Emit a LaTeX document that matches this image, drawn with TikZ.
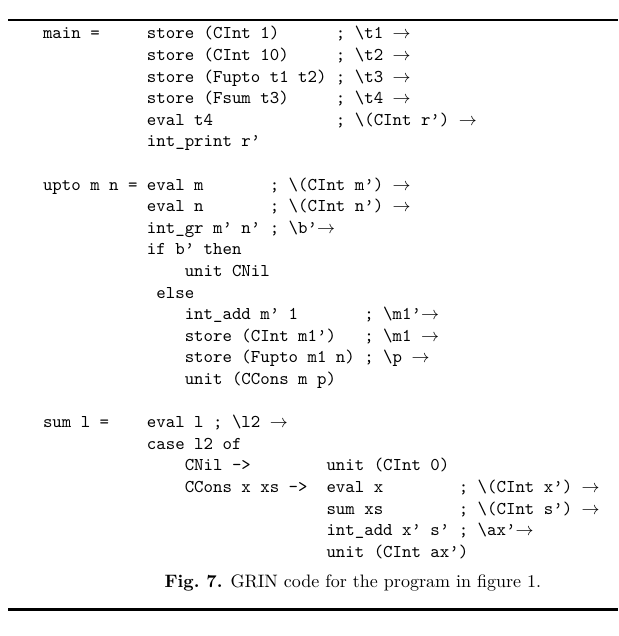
\documentclass[tikz,border=0pt]{standalone}
\usepackage{fontspec}
\setmonofont{Latin Modern Mono}
\newcommand\colx[1]{23.9+5.25*#1}
\newcommand\rowy[1]{21.6+12*#1}
\newcommand\bs{\textbackslash}
\newcommand\ar{$\rightarrow$}
\begin{document}
\begin{tikzpicture}[x=1pt,y=-1pt,
  code/.style={anchor=base west, inner sep=0pt, outer sep=0pt, font=\ttfamily},
  captext/.style={anchor=base west, inner sep=0pt, outer sep=0pt},
  hrule/.style={line width=1.5pt}]
\useasboundingbox (0,0) rectangle (343.33,353.33);
% rules
\coordinate (tl) at (4.5,11.1);
\coordinate (tr) at (343.33,11.1);
\coordinate (bl) at (4.5,338.6);
\coordinate (br) at (343.33,338.6);
\draw[hrule] (tl) -- (tr);
\draw[hrule] (bl) -- (br);
% main
\node[code] (a0) at ({\colx{0}},{\rowy{0}}) {main =};
\node[code] (a1) at ({\colx{11}},{\rowy{0}}) {store (CInt 1)};
\node[code] (a2) at ({\colx{31}},{\rowy{0}}) {; \bs t1 \ar};
\node[code] (a3) at ({\colx{11}},{\rowy{1}}) {store (CInt 10)};
\node[code] (a4) at ({\colx{31}},{\rowy{1}}) {; \bs t2 \ar};
\node[code] (a5) at ({\colx{11}},{\rowy{2}}) {store (Fupto t1 t2)};
\node[code] (a6) at ({\colx{31}},{\rowy{2}}) {; \bs t3 \ar};
\node[code] (a7) at ({\colx{11}},{\rowy{3}}) {store (Fsum t3)};
\node[code] (a8) at ({\colx{31}},{\rowy{3}}) {; \bs t4 \ar};
\node[code] (a9) at ({\colx{11}},{\rowy{4}}) {eval t4};
\node[code] (a10) at ({\colx{31}},{\rowy{4}}) {; \bs(CInt r’) \ar};
\node[code] (a11) at ({\colx{11}},{\rowy{5}}) {int\_print r’};
% upto
\node[code] (b0) at ({\colx{0}},{\rowy{7}}) {upto m n =};
\node[code] (b1) at ({\colx{11}},{\rowy{7}}) {eval m};
\node[code] (b2) at ({\colx{24}},{\rowy{7}}) {; \bs(CInt m’) \ar};
\node[code] (b3) at ({\colx{11}},{\rowy{8}}) {eval n};
\node[code] (b4) at ({\colx{24}},{\rowy{8}}) {; \bs(CInt n’) \ar};
\node[code] (b5) at ({\colx{11}},{\rowy{9}}) {int\_gr m’ n’ ; \bs b’\ar};
\node[code] (b6) at ({\colx{11}},{\rowy{10}}) {if b’ then};
\node[code] (b7) at ({\colx{15}},{\rowy{11}}) {unit CNil};
\node[code] (b8) at ({\colx{12}},{\rowy{12}}) {else};
\node[code] (b9) at ({\colx{15}},{\rowy{13}}) {int\_add m’ 1};
\node[code] (b10) at ({\colx{34}},{\rowy{13}}) {; \bs m1’\ar};
\node[code] (b11) at ({\colx{15}},{\rowy{14}}) {store (CInt m1’)};
\node[code] (b12) at ({\colx{34}},{\rowy{14}}) {; \bs m1 \ar};
\node[code] (b13) at ({\colx{15}},{\rowy{15}}) {store (Fupto m1 n) ; \bs p \ar};
\node[code] (b14) at ({\colx{15}},{\rowy{16}}) {unit (CCons m p)};
% sum
\node[code] (c0) at ({\colx{0}},{\rowy{18}}) {sum l =};
\node[code] (c1) at ({\colx{11}},{\rowy{18}}) {eval l ; \bs l2 \ar};
\node[code] (c2) at ({\colx{11}},{\rowy{19}}) {case l2 of};
\node[code] (c3) at ({\colx{15}},{\rowy{20}}) {CNil ->};
\node[code] (c4) at ({\colx{30}},{\rowy{20}}) {unit (CInt 0)};
\node[code] (c5) at ({\colx{15}},{\rowy{21}}) {CCons x xs ->};
\node[code] (c6) at ({\colx{30}},{\rowy{21}}) {eval x};
\node[code] (c7) at ({\colx{44}},{\rowy{21}}) {; \bs(CInt x’) \ar};
\node[code] (c8) at ({\colx{30}},{\rowy{22}}) {sum xs};
\node[code] (c9) at ({\colx{44}},{\rowy{22}}) {; \bs(CInt s’) \ar};
\node[code] (c10) at ({\colx{30}},{\rowy{23}}) {int\_add x’ s’ ; \bs ax’\ar};
\node[code] (c11) at ({\colx{30}},{\rowy{24}}) {unit (CInt ax’)};
% caption
\node[captext] (capt) at (91.5,326.3) {\textbf{Fig.\ 7.} GRIN code for the program in figure 1.};
\end{tikzpicture}
\end{document}
